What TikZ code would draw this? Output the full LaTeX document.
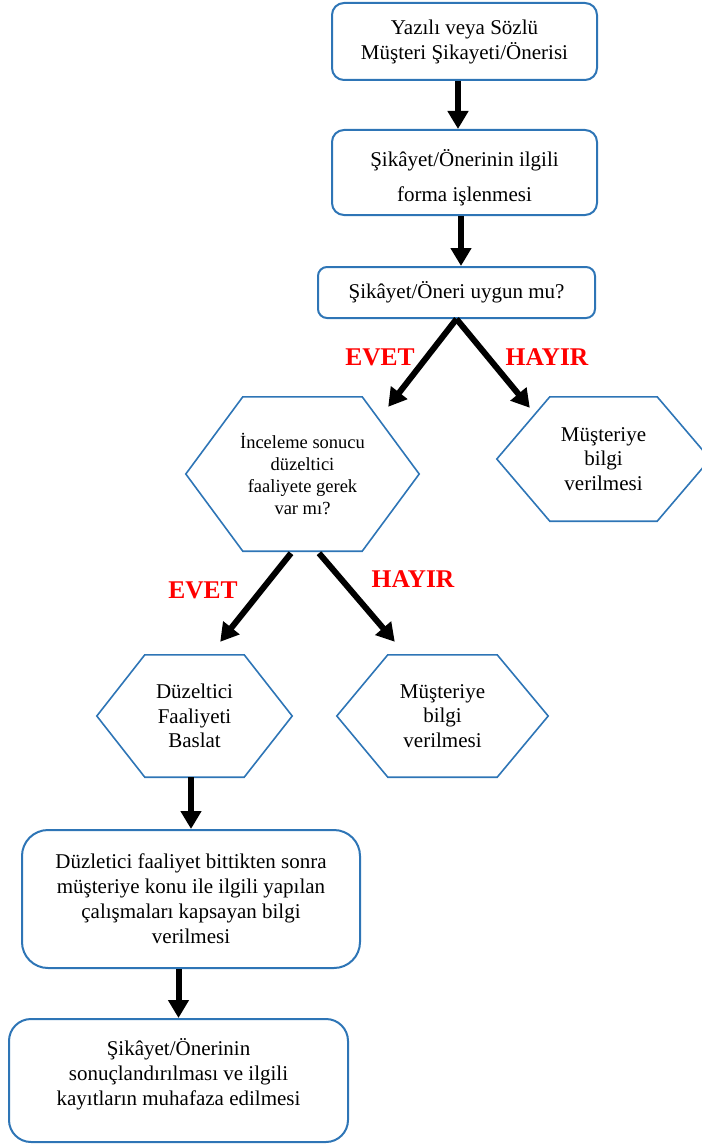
\documentclass[tikz,border=0pt]{standalone}
\usepackage{fontspec}
\setmainfont{Liberation Serif}
\usetikzlibrary{arrows.meta, calc}
\definecolor{box-blue}{RGB}{46,117,182}
\definecolor{label-red}{RGB}{255,0,0}

\tikzset{
  stepbox/.style={draw=box-blue, line width=2pt, rounded corners=12pt, align=center, font=\fontsize{21}{25}\selectfont},
  hexnode/.style={align=center, inner sep=0pt, font=\fontsize{21}{24.5}\selectfont},
  hexline/.style={draw=box-blue, line width=1.6pt},
  flow/.style={line width=6pt, -{Triangle[length=18pt,width=20pt]}},
  answer/.style={text=label-red, font=\fontsize{25.5}{30}\selectfont\bfseries},
}
% hexagon round a node: name, size of the side points
\newcommand{\hexoutline}[2]{%
  \draw[hexline] (#1.west) -- ($(#1.north west)+(#2,0)$) -- ($(#1.north east)-(#2,0)$)
    -- (#1.east) -- ($(#1.south east)-(#2,0)$) -- ($(#1.south west)+(#2,0)$) -- cycle;}

\begin{document}
\begin{tikzpicture}[x=1pt, y=-1pt]
	\useasboundingbox (0,0) rectangle (701,1145);

	\node[stepbox, minimum width=265pt, minimum height=77pt] at (464.5,41.5) (yazili) {Yazılı veya Sözlü\\Müşteri Şikayeti/Önerisi};
	\node[stepbox, minimum width=265pt, minimum height=85pt] at (464.5,172.5) (islem) {\mbox{}\\[2pt]Şikâyet/Önerinin ilgili\\[10pt]forma işlenmesi};
	\node[stepbox, minimum width=277pt, minimum height=51pt, rounded corners=9pt] at (456.5,292.5) (uygun) {Şikâyet/Öneri uygun mu?};

	\node[hexnode, minimum width=233pt, minimum height=154pt, font=\fontsize{18.5}{22}\selectfont] at (302.5,474) (ince) {İnceleme sonucu\\düzeltici\\faaliyete gerek\\var mı?};
	\hexoutline{ince}{57}
	\node[hexnode, minimum width=213pt, minimum height=124pt] at (603.5,459) (bilgiA) {Müşteriye\\bilgi\\verilmesi};
	\hexoutline{bilgiA}{53}

	\node[answer] at (380,357) (evetA) {EVET};
	\node[answer] at (547,357) (hayirA) {HAYIR};

	\node[hexnode, minimum width=195pt, minimum height=122pt] at (194.5,716) (baslat) {Düzeltici\\Faaliyeti\\Baslat};
	\hexoutline{baslat}{48}
	\node[hexnode, minimum width=211pt, minimum height=122pt] at (442.5,716) (bilgiB) {Müşteriye\\bilgi\\verilmesi};
	\hexoutline{bilgiB}{51}

	\node[answer] at (203,590) (evetB) {EVET};
	\node[answer] at (413,579) (hayirB) {HAYIR};

	\node[stepbox, minimum width=338pt, minimum height=138pt, rounded corners=26pt] at (191,899) (bitti) {Düzletici faaliyet bittikten sonra\\müşteriye konu ile ilgili yapılan\\çalışmaları kapsayan bilgi\\verilmesi};
	\node[stepbox, minimum width=339pt, minimum height=123pt, rounded corners=22pt] at (178.5,1080.5) (kayit) {Şikâyet/Önerinin\\sonuçlandırılması ve ilgili\\kayıtların muhafaza edilmesi\\[-8pt]\mbox{}};

	\draw[flow] ([xshift=-6.5pt]yazili.south) -- ([xshift=-6.5pt]islem.north);
	\draw[flow] ([xshift=-3.5pt]islem.south) -- ([xshift=-3.5pt]islem.south |- uygun.north);
	\draw[flow] (uygun.south) -- ($(ince.north east)+(-31,10)$);
	\draw[flow] (uygun.south) -- ($(bilgiA.north west)+(33,11)$);
	\draw[flow] ($(ince.south)+(-11.5,2)$) -- ($(baslat.north east)+(-72,-13)$);
	\draw[flow] ($(ince.south)+(16.5,2)$) -- ($(bilgiB.north west)+(58,-13)$);
	\draw[flow] (baslat.south -| bitti.north) -- (bitti.north);
	\draw[flow] (bitti.south -| kayit.north) -- (kayit.north);
\end{tikzpicture}
\end{document}
